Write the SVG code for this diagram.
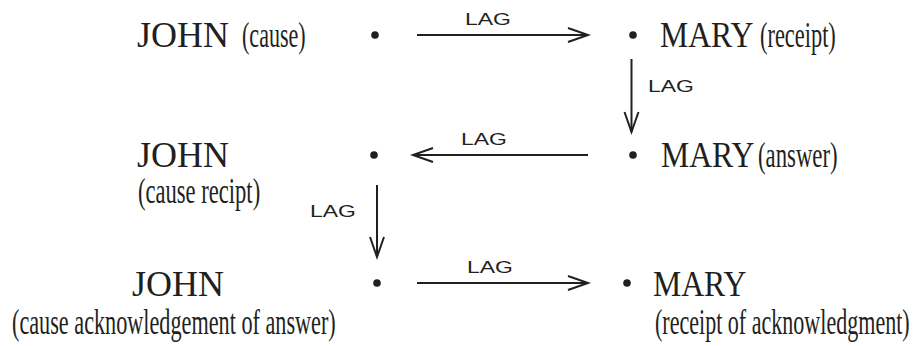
<svg xmlns="http://www.w3.org/2000/svg" width="923" height="346" viewBox="0 0 923 346">
<defs>
<style>
.name{font-family:"Liberation Serif","Times New Roman",serif;font-size:36px;fill:#231f20}
.role{font-family:"Liberation Serif","Times New Roman",serif;font-size:35px;fill:#231f20}
.lag{font-family:"Liberation Sans",Arial,sans-serif;font-size:17px;fill:#231f20}
.dot{fill:#231f20}
.conn{stroke:#231f20;stroke-width:2;fill:none;marker-end:url(#ah)}
</style>
<marker id="ah" markerUnits="userSpaceOnUse" markerWidth="26" markerHeight="20" refX="22" refY="9" orient="auto" overflow="visible">
<path d="M2,2 L22,9 L2,16" fill="none" stroke="#231f20" stroke-width="2"/>
</marker>
</defs>
<rect width="923" height="346" fill="#ffffff"/>

<g id="john-cause">
<text class="name" x="137" y="47">JOHN</text>
<text class="role" transform="translate(242,47) scale(0.63,1)">(cause)</text>
<circle class="dot" cx="375" cy="35" r="3.8"/>
</g>
<g id="mary-receipt">
<circle class="dot" cx="633" cy="35" r="3.8"/>
<text class="name" transform="translate(660,47) scale(0.88,1)">MARY</text>
<text class="role" transform="translate(760,47) scale(0.64,1)">(receipt)</text>
</g>
<g id="john-cause-recipt">
<text class="name" x="137" y="167">JOHN</text>
<text class="role" transform="translate(138,203) scale(0.645,1)">(cause recipt)</text>
<circle class="dot" cx="374" cy="155" r="3.8"/>
</g>
<g id="mary-answer">
<circle class="dot" cx="633" cy="155" r="3.8"/>
<text class="name" transform="translate(661,167) scale(0.88,1)">MARY</text>
<text class="role" transform="translate(758,167) scale(0.65,1)">(answer)</text>
</g>
<g id="john-ack">
<text class="name" x="132" y="296">JOHN</text>
<text class="role" transform="translate(12,334) scale(0.635,1)">(cause acknowledgement of answer)</text>
<circle class="dot" cx="377" cy="283" r="3.8"/>
</g>
<g id="mary-ack">
<circle class="dot" cx="627" cy="283" r="3.8"/>
<text class="name" transform="translate(653,296) scale(0.88,1)">MARY</text>
<text class="role" transform="translate(655,334) scale(0.63,1)">(receipt of acknowledgment)</text>
</g>

<g id="connectors">
<line class="conn" x1="417" y1="35" x2="588" y2="35"/>
<text class="lag" transform="translate(488,25) scale(1.35,1)" text-anchor="middle">LAG</text>
<line class="conn" x1="631.5" y1="59" x2="631.5" y2="132"/>
<text class="lag" transform="translate(648,92) scale(1.35,1)">LAG</text>
<line class="conn" x1="588" y1="155" x2="413" y2="155"/>
<text class="lag" transform="translate(484,145) scale(1.35,1)" text-anchor="middle">LAG</text>
<line class="conn" x1="377" y1="185" x2="377" y2="257"/>
<text class="lag" transform="translate(310,217) scale(1.35,1)">LAG</text>
<line class="conn" x1="417" y1="283" x2="588" y2="283"/>
<text class="lag" transform="translate(490,273) scale(1.35,1)" text-anchor="middle">LAG</text>
</g>
</svg>
